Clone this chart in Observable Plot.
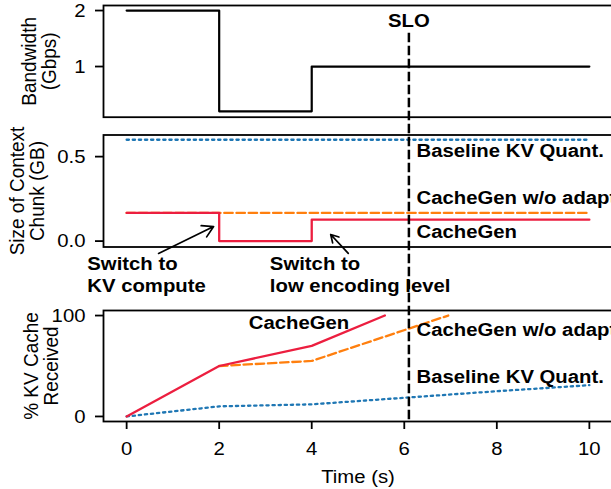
<!DOCTYPE html>
<html><head><meta charset="utf-8">
<script src="https://cdn.jsdelivr.net/npm/d3@7"></script>
<script src="https://cdn.jsdelivr.net/npm/@observablehq/plot@0.6"></script>
<style>
html,body{margin:0;padding:0;overflow:hidden;background:#fff;}
#wrap{position:relative;width:611px;height:489px;overflow:hidden;background:#fff;}
#wrap svg{position:absolute;left:0;top:0;}
</style></head><body><div id="wrap"></div>
<script>
// ---- data ----
const timeTicks = [0, 2, 4, 6, 8, 10];
const sloTime = 6.1;

// panel 1: bandwidth (Gbps), step-after
const bwTime = [0, 2, 4, 10];
const bwValue = [2, 0.2, 1, 1];
const bwTicks = [1, 2];

// panel 2: size of context chunk (GB)
const cacheGenSizeTime = [0, 2, 4, 10];
const cacheGenSize = [0.167, 0, 0.127, 0.127];
const noAdaptSizeTime = [0, 10];
const noAdaptSize = [0.167, 0.167];
const baselineSizeTime = [0, 10];
const baselineSize = [0.6, 0.6];
const sizeTicks = [0, 0.5];

// panel 3: % KV cache received
const cacheGenRecvTime = [0, 2, 4, 5.58];
const cacheGenRecv = [0, 50, 70, 100];
const noAdaptRecvTime = [2, 4, 6.95];
const noAdaptRecv = [50, 55, 100];
const baselineRecvTime = [0, 2, 4, 6, 8, 10];
const baselineRecv = [0, 10, 12, 18.5, 25, 31];
const recvTicks = [0, 100];

// labels
const seriesNames = ["Baseline KV Quant.", "CacheGen w/o adapt", "CacheGen"];
const sizeLabelX = [6.265, 6.265, 6.265];
const sizeLabelY = [0.497, 0.217, 0.02];
const recvLabelX = [6.265, 6.265, 2.64];
const recvLabelY = [33, 80.2, 86.9];
const noteText = ["Switch to\nKV compute", "Switch to\nlow encoding level"];
const noteX = [-0.85, 3.095];
const noteY = [-0.30, -0.30];
const arrowTailX = [0.69, 4.79];
const arrowTailY = [-0.073, -0.073];
const arrowHeadX = [1.88, 4.41];
const arrowHeadY = [0.086, 0.039];

// ---- styles ----
const RED = "#ec1e3f", ORANGE = "#ff7f0e", BLUE = "#1f77b4";
const FONT = '"Liberation Sans", Arial, Helvetica, sans-serif';
const FS = 19;
const TEXT_STRETCH = 1.07;
const DASH = "8.5,3.7", DOT = "2.3,3.8", LW = 2.3;

function opts(mt, mb, ydomain, marks) {
  return {
    width: 611, height: 489,
    marginLeft: 103, marginRight: -1, marginTop: mt, marginBottom: mb,
    style: {background: "transparent", fontFamily: FONT, fontSize: FS + "px", color: "#000", overflow: "visible"},
    x: {domain: [-0.5, 10.5], axis: null},
    y: {domain: ydomain},
    marks
  };
}
const yAxis = (ticks, fmt) => Plot.axisY({ticks, tickFormat: fmt, tickSize: 8, tickPadding: 10, label: null, fontSize: FS, strokeWidth: 1.8});
const yLabel = (t, dx) => Plot.text([t], {frameAnchor: "left", dx, rotate: -90, textAnchor: "middle", lineAnchor: "middle", lineHeight: 1.0, fontSize: FS});
const frame = () => Plot.frame({stroke: "black", strokeWidth: 1.8});

const p1 = Plot.plot(opts(5, 489 - 116.7, [0.095, 2.09], [
  Plot.line(bwValue, {x: bwTime, y: bwValue, curve: "step-after", stroke: "black", strokeWidth: 2.2}),
  Plot.text(["SLO"], {x: [sloTime], y: [1.70], textAnchor: "middle", lineAnchor: "bottom", fontWeight: "bold", fontSize: FS}),
  frame(),
  yAxis(bwTicks, d3.format("d")),
  yLabel("Bandwidth\n(Gbps)", -64)
]));

const p2 = Plot.plot(opts(134.5, 489 - 246.5, [-0.035, 0.628], [
  Plot.line(baselineSize, {x: baselineSizeTime, y: baselineSize, stroke: BLUE, strokeWidth: LW, strokeDasharray: DOT}),
  Plot.line(noAdaptSize, {x: noAdaptSizeTime, y: noAdaptSize, stroke: ORANGE, strokeWidth: LW, strokeDasharray: DASH}),
  Plot.line(cacheGenSize, {x: cacheGenSizeTime, y: cacheGenSize, curve: "step-after", stroke: RED, strokeWidth: LW}),
  Plot.text(seriesNames, {x: sizeLabelX, y: sizeLabelY, textAnchor: "start", lineAnchor: "bottom", fontWeight: "bold", fontSize: FS}),
  Plot.arrow(noteText, {x1: arrowTailX, y1: arrowTailY, x2: arrowHeadX, y2: arrowHeadY, stroke: "black", strokeWidth: 1.7, headLength: 11}),
  Plot.text(noteText, {x: noteX, y: noteY, textAnchor: "start", lineAnchor: "bottom", lineHeight: 1.16, fontWeight: "bold", fontSize: FS}),
  frame(),
  yAxis(sizeTicks, d3.format(".1f")),
  yLabel("Size of Context\nChunk (GB)", -76)
]));

const p3 = Plot.plot(opts(310, 68, [-5, 105], [
  Plot.line(baselineRecv, {x: baselineRecvTime, y: baselineRecv, stroke: BLUE, strokeWidth: LW, strokeDasharray: DOT}),
  Plot.line(noAdaptRecv, {x: noAdaptRecvTime, y: noAdaptRecv, stroke: ORANGE, strokeWidth: LW, strokeDasharray: DASH}),
  Plot.line(cacheGenRecv, {x: cacheGenRecvTime, y: cacheGenRecv, stroke: RED, strokeWidth: LW}),
  Plot.text(seriesNames, {x: recvLabelX, y: recvLabelY, textAnchor: "start", lineAnchor: "bottom", fontWeight: "bold", fontSize: FS}),
  Plot.ruleX([sloTime], {stroke: "black", strokeWidth: 2.5, strokeDasharray: "9.5,3.5", insetTop: -277.3}),
  frame(),
  yAxis(recvTicks, d3.format("d")),
  Plot.axisX({ticks: timeTicks, tickSize: 8, tickPadding: 12, label: null, fontSize: FS, strokeWidth: 1.8}),
  Plot.text(["Time (s)"], {frameAnchor: "bottom", dy: 61, lineAnchor: "bottom", fontSize: FS}),
  yLabel("% KV Cache\nReceived", -62)
]));

// widen text slightly (across the glyph's horizontal on screen) to match the reference's proportions
for (const svg of [p1, p2, p3]) {
  svg.querySelectorAll("text").forEach((el) => {
    const t = el.getAttribute("transform") || "";
    if (t.includes("rotate")) {
      el.setAttribute("transform", `${t} scale(1,${TEXT_STRETCH})`);
      return;
    }
    const x = parseFloat(el.getAttribute("x")) || 0;
    el.setAttribute("transform", `${t} translate(${x},0) scale(${TEXT_STRETCH},1) translate(${-x},0)`.trim());
  });
}

document.getElementById("wrap").append(p1, p2, p3);
</script></body></html>
